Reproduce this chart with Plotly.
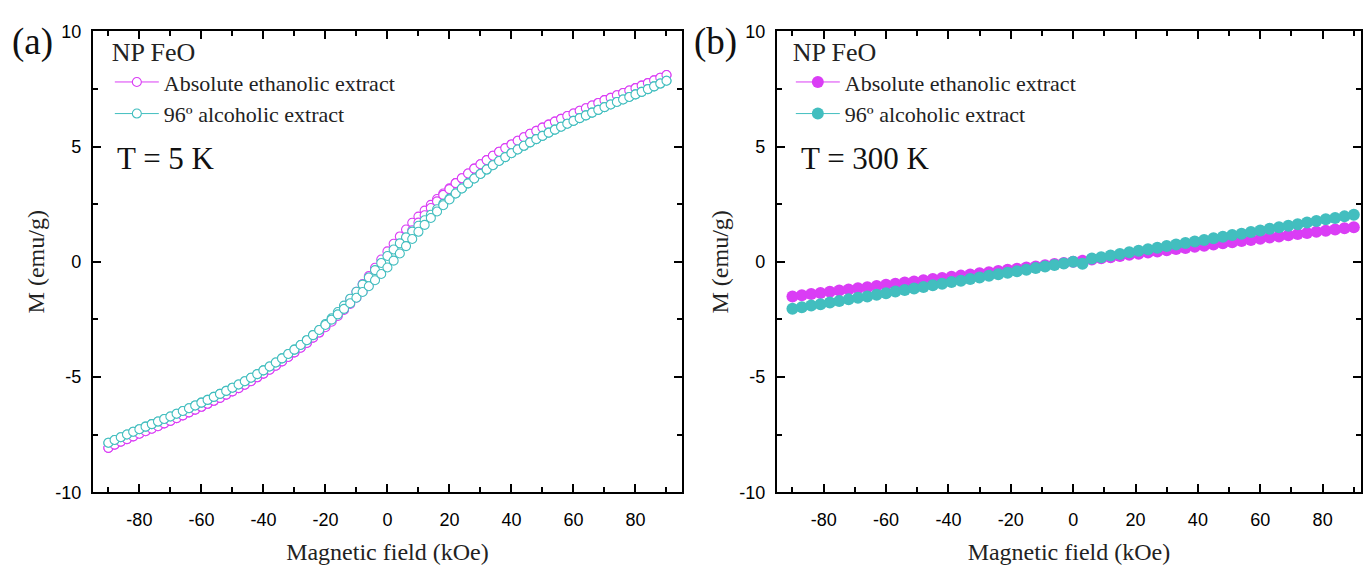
import plotly.graph_objects as go

# ---------------- data: M(H) loops at 5 K (field in kOe, M in emu/g) ----------------
FIELD_5K = [-90, -88, -86, -84, -82, -80, -78, -76, -74, -72, -70, -68, -66, -64, -62,
            -60, -58, -56, -54, -52, -50, -48, -46, -44, -42, -40, -38, -36, -34, -32,
            -30, -28, -26, -24, -22, -20, -18, -16, -14, -12, -10, -8, -6, -4, -2,
            0, 2, 4, 6, 8, 10, 12, 14, 16, 18, 20, 22, 24, 26, 28, 30, 32, 34, 36, 38,
            40, 42, 44, 46, 48, 50, 52, 54, 56, 58, 60, 62, 64, 66, 68, 70, 72, 74, 76,
            78, 80, 82, 84, 86, 88, 90]

# Absolute ethanolic extract, descending branch (+90 -> -90), listed by increasing field
M_ABS_5K_DOWN = [-8.07, -7.93, -7.80, -7.69, -7.57, -7.46, -7.35, -7.24, -7.13, -7.01,
                 -6.90, -6.78, -6.66, -6.53, -6.41, -6.29, -6.16, -6.03, -5.90, -5.76,
                 -5.62, -5.48, -5.33, -5.18, -5.01, -4.85, -4.68, -4.51, -4.32, -4.13,
                 -3.93, -3.73, -3.52, -3.29, -3.07,
                 -2.80, -2.54, -2.25, -1.95, -1.63, -1.30, -0.97, -0.62, -0.26, 0.10,
                 0.45,
                 0.78, 1.10, 1.40, 1.69, 1.96, 2.22, 2.47, 2.72, 2.96, 3.19,
                 3.41, 3.62, 3.83, 4.04, 4.23, 4.41, 4.60, 4.77, 4.93, 5.09, 5.25, 5.40,
                 5.55, 5.68, 5.82, 5.95, 6.08, 6.20, 6.32, 6.43, 6.55, 6.66, 6.78, 6.89,
                 7.01, 7.11, 7.22, 7.32, 7.43, 7.53, 7.64, 7.75, 7.87, 7.98, 8.10]
# Absolute ethanolic extract, ascending branch (-90 -> +90)
M_ABS_5K_UP = [-8.07, -7.93, -7.80, -7.69, -7.57, -7.46, -7.35, -7.24, -7.13, -7.01,
               -6.90, -6.78, -6.66, -6.53, -6.41, -6.29, -6.16, -6.03, -5.90, -5.76,
               -5.62, -5.48, -5.33, -5.18, -5.01, -4.85, -4.68, -4.51, -4.32, -4.13,
               -3.93, -3.73, -3.52, -3.29, -3.07,
               -2.84, -2.60, -2.35, -2.09, -1.83, -1.56, -1.29, -1.00, -0.70, -0.38,
               -0.05,
               0.30, 0.66, 1.02, 1.37, 1.70, 2.02, 2.33, 2.62, 2.90, 3.15,
               3.41, 3.62, 3.83, 4.04, 4.23, 4.41, 4.60, 4.77, 4.93, 5.09, 5.25, 5.40,
               5.55, 5.68, 5.82, 5.95, 6.08, 6.20, 6.32, 6.43, 6.55, 6.66, 6.78, 6.89,
               7.01, 7.11, 7.22, 7.32, 7.43, 7.53, 7.64, 7.75, 7.87, 7.98, 8.10]

# 96º alcoholic extract, descending branch
M_96_5K_DOWN = [-7.85, -7.73, -7.61, -7.49, -7.37, -7.26, -7.15, -7.04, -6.93, -6.82,
                -6.71, -6.59, -6.47, -6.35, -6.23, -6.11, -5.99, -5.86, -5.73, -5.60,
                -5.46, -5.32, -5.18, -5.03, -4.87, -4.71, -4.54, -4.37, -4.19, -4.00,
                -3.81, -3.61, -3.40, -3.18, -2.96,
                -2.70, -2.45, -2.18, -1.90, -1.60, -1.30, -0.99, -0.68, -0.36, -0.05,
                0.25,
                0.53, 0.80, 1.06, 1.31, 1.56, 1.80, 2.04, 2.28, 2.51, 2.74,
                2.96, 3.18, 3.40, 3.61, 3.81, 4.00, 4.19, 4.37, 4.54, 4.71, 4.87, 5.03,
                5.18, 5.32, 5.46, 5.60, 5.73, 5.86, 5.99, 6.11, 6.23, 6.35, 6.47, 6.59,
                6.71, 6.82, 6.93, 7.04, 7.15, 7.26, 7.37, 7.49, 7.61, 7.73, 7.85]
# 96º alcoholic extract, ascending branch
M_96_5K_UP = [-7.85, -7.73, -7.61, -7.49, -7.37, -7.26, -7.15, -7.04, -6.93, -6.82,
              -6.71, -6.59, -6.47, -6.35, -6.23, -6.11, -5.99, -5.86, -5.73, -5.60,
              -5.46, -5.32, -5.18, -5.03, -4.87, -4.71, -4.54, -4.37, -4.19, -4.00,
              -3.81, -3.61, -3.40, -3.18, -2.96,
              -2.74, -2.51, -2.28, -2.04, -1.80, -1.56, -1.31, -1.06, -0.80, -0.53,
              -0.25,
              0.05, 0.36, 0.68, 0.99, 1.30, 1.60, 1.90, 2.18, 2.45, 2.70,
              2.96, 3.18, 3.40, 3.61, 3.81, 4.00, 4.19, 4.37, 4.54, 4.71, 4.87, 5.03,
              5.18, 5.32, 5.46, 5.60, 5.73, 5.86, 5.99, 6.11, 6.23, 6.35, 6.47, 6.59,
              6.71, 6.82, 6.93, 7.04, 7.15, 7.26, 7.37, 7.49, 7.61, 7.73, 7.85]

# ---------------- data: M(H) at 300 K ----------------
FIELD_300K = [-90, -87, -84, -81, -78, -75, -72, -69, -66, -63, -60, -57, -54, -51, -48,
              -45, -42, -39, -36, -33, -30, -27, -24, -21, -18, -15, -12, -9, -6, -3,
              0, 3, 6, 9, 12, 15, 18, 21, 24, 27, 30, 33, 36, 39, 42, 45, 48, 51, 54,
              57, 60, 63, 66, 69, 72, 75, 78, 81, 84, 87, 90]
M_ABS_300K = [-1.50, -1.45, -1.40, -1.35, -1.30, -1.25, -1.20, -1.15, -1.10, -1.05,
              -1.00, -0.95, -0.90, -0.85, -0.80, -0.75, -0.70, -0.65, -0.60, -0.55,
              -0.50, -0.45, -0.40, -0.35, -0.30, -0.25, -0.20, -0.15, -0.10, -0.05,
              0.00, 0.05, 0.10, 0.15, 0.20, 0.25, 0.30, 0.35, 0.40, 0.45, 0.50, 0.55,
              0.60, 0.65, 0.70, 0.75, 0.80, 0.85, 0.90, 0.95, 1.00, 1.05, 1.10, 1.15,
              1.20, 1.25, 1.30, 1.35, 1.40, 1.45, 1.50]
M_96_300K = [-2.04, -1.97, -1.90, -1.84, -1.77, -1.70, -1.63, -1.56, -1.50, -1.43,
             -1.36, -1.29, -1.22, -1.16, -1.09, -1.02, -0.95, -0.88, -0.82, -0.75,
             -0.68, -0.61, -0.54, -0.48, -0.41, -0.34, -0.27, -0.20, -0.14, -0.07,
             0.00, -0.08, 0.14, 0.20, 0.27, 0.34, 0.41, 0.48, 0.54, 0.61, 0.68, 0.75,
             0.82, 0.88, 0.95, 1.02, 1.09, 1.16, 1.22, 1.29, 1.36, 1.43, 1.50, 1.56,
             1.63, 1.70, 1.77, 1.84, 1.90, 1.97, 2.04]

X_TICKS = [-80, -60, -40, -20, 0, 20, 40, 60, 80]
X_TICK_TEXT = ["-80", "-60", "-40", "-20", "0", "20", "40", "60", "80"]
Y_TICKS = [-10, -5, 0, 5, 10]
Y_TICK_TEXT = ["-10", "-5", "0", "5", "10"]

SERIES_NAMES = ["Absolute ethanolic extract", "96º alcoholic extract"]
MAGENTA = "#DA3DF5"
TEAL = "#42BEBF"

SERIF = "Liberation Serif, Times New Roman, serif"
SANS = "Liberation Sans, Arial, sans-serif"


def loop(field, down, up):
    """Join the descending sweep (+H -> -H) and the ascending sweep (-H -> +H)."""
    return field[::-1] + field, down[::-1] + up


fig = go.Figure()

# panel (a): open symbols
for name, color, down, up in [(SERIES_NAMES[0], MAGENTA, M_ABS_5K_DOWN, M_ABS_5K_UP),
                              (SERIES_NAMES[1], TEAL, M_96_5K_DOWN, M_96_5K_UP)]:
    xs, ys = loop(FIELD_5K, down, up)
    fig.add_trace(go.Scatter(
        x=xs, y=ys, name=name, mode="lines+markers",
        line=dict(color=color, width=1),
        marker=dict(symbol="circle", size=9, color="white",
                    line=dict(color=color, width=1.1)),
        xaxis="x", yaxis="y", legend="legend"))

# panel (b): filled symbols
for name, color, vals in [(SERIES_NAMES[0], MAGENTA, M_ABS_300K),
                          (SERIES_NAMES[1], TEAL, M_96_300K)]:
    fig.add_trace(go.Scatter(
        x=FIELD_300K, y=vals, name=name, mode="lines+markers",
        line=dict(color=color, width=1),
        marker=dict(symbol="circle", size=12, color=color, line=dict(width=0)),
        xaxis="x2", yaxis="y2", legend="legend2"))

W, H = 1363, 567


def px_x(p):
    return p / W


def px_y(p):
    return 1 - p / H


axis_common = dict(
    showgrid=False, zeroline=False, showline=True, linecolor="black", linewidth=2,
    mirror="ticks", ticks="inside", ticklen=8, tickwidth=2, tickcolor="black",
    tickfont=dict(family=SANS, size=18, color="black"),
)

xaxis_common = dict(
    axis_common, tickvals=X_TICKS, ticktext=X_TICK_TEXT, ticklabelstandoff=10,
    minor=dict(dtick=10, tick0=0, ticks="inside", ticklen=5, tickwidth=2,
               tickcolor="black"),
    title=dict(text="Magnetic field (kOe)", font=dict(family=SERIF, size=24,
                                                      color="#222"), standoff=14),
)
yaxis_common = dict(
    axis_common, tickvals=Y_TICKS, ticktext=Y_TICK_TEXT, range=[-10, 10],
    ticklabelstandoff=6,
    minor=dict(dtick=2.5, tick0=0, ticks="inside", ticklen=5, tickwidth=2,
               tickcolor="black"),
    title=dict(text="M (emu/g)", font=dict(family=SERIF, size=24, color="#222"),
               standoff=4),
)

legend_common = dict(
    xanchor="left", yanchor="top", bgcolor="rgba(0,0,0,0)",
    font=dict(family=SERIF, size=22, color="#222"),
    title=dict(text="NP FeO", font=dict(family=SERIF, size=26, color="#222")),
    itemwidth=44, tracegroupgap=0,
)

fig.update_layout(
    width=W, height=H,
    margin=dict(l=0, r=0, t=0, b=0),
    paper_bgcolor="white", plot_bgcolor="white",
    xaxis=dict(xaxis_common, domain=[px_x(93), px_x(683)], range=[-95, 95],
               anchor="y"),
    yaxis=dict(yaxis_common, domain=[px_y(500), px_y(22)], anchor="x"),
    xaxis2=dict(xaxis_common, domain=[px_x(778), 1.0], range=[-95, 92.3],
                anchor="y2"),
    yaxis2=dict(yaxis_common, domain=[px_y(500), px_y(22)], anchor="x2"),
    legend=dict(legend_common, x=px_x(110), y=px_y(18)),
    legend2=dict(legend_common, x=px_x(792), y=px_y(18)),
    showlegend=True,
    annotations=[
        dict(text="(a)", x=px_x(10), y=px_y(33), xref="paper", yref="paper",
             xanchor="left", yanchor="middle", showarrow=False,
             font=dict(family=SERIF, size=37, color="#111")),
        dict(text="(b)", x=px_x(693), y=px_y(33), xref="paper", yref="paper",
             xanchor="left", yanchor="middle", showarrow=False,
             font=dict(family=SERIF, size=37, color="#111")),
        dict(text="T = 5 K", x=px_x(115), y=px_y(154), xref="paper", yref="paper",
             xanchor="left", yanchor="middle", showarrow=False,
             font=dict(family=SERIF, size=31, color="#111")),
        dict(text="T = 300 K", x=px_x(800), y=px_y(154), xref="paper", yref="paper",
             xanchor="left", yanchor="middle", showarrow=False,
             font=dict(family=SERIF, size=31, color="#111")),
    ],
)

fig.write_html("out.html")
